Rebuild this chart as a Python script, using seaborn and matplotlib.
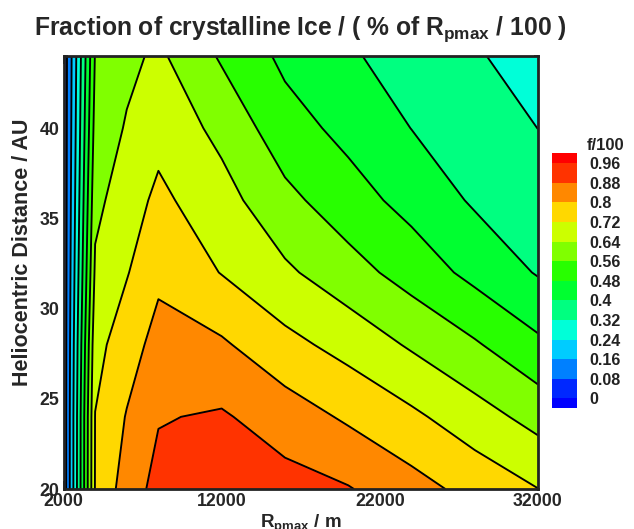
import numpy as np
import matplotlib
matplotlib.use('Agg')
import matplotlib.pyplot as plt
import seaborn as sns
from matplotlib.colors import ListedColormap, BoundaryNorm
from matplotlib.cm import ScalarMappable
from matplotlib.ticker import MultipleLocator, FixedLocator

# ---------------- data ----------------
r_pmax = [2000, 4000, 6000, 8000, 12000, 16000, 20000, 24000, 28000, 32000]
distance = [20, 24, 28, 32, 36, 40, 44]

frac_d20 = [0.02, 0.725, 0.84, 0.905, 0.93, 0.91, 0.885, 0.83, 0.774, 0.721]
frac_d24 = [0.02, 0.722, 0.805, 0.875, 0.889, 0.841, 0.788, 0.736, 0.674, 0.612]
frac_d28 = [0.02, 0.695, 0.763, 0.829, 0.811, 0.744, 0.692, 0.630, 0.569, 0.496]
frac_d32 = [0.02, 0.653, 0.715, 0.783, 0.717, 0.654, 0.592, 0.527, 0.457, 0.394]
frac_d36 = [0.02, 0.620, 0.682, 0.738, 0.670, 0.582, 0.514, 0.453, 0.390, 0.357]
frac_d40 = [0.02, 0.590, 0.647, 0.694, 0.618, 0.513, 0.457, 0.399, 0.359, 0.3195]
frac_d44 = [0.02, 0.565, 0.620, 0.655, 0.550, 0.462, 0.410, 0.366, 0.327, 0.290]

levels = [0, 0.08, 0.16, 0.24, 0.32, 0.40, 0.48, 0.56, 0.64, 0.72, 0.80, 0.88, 0.96]
level_labels = ['0', '0.08', '0.16', '0.24', '0.32', '0.4', '0.48', '0.56',
                '0.64', '0.72', '0.8', '0.88', '0.96']
under_color = '#0000ff'
band_colors = ['#0028ff', '#0080ff', '#00ccff', '#00ffd8', '#00ff80', '#00ff30',
               '#28ff00', '#80ff00', '#ccff00', '#ffd800', '#ff8800', '#ff3300']
over_color = '#ff0000'

x_ticks = [2000, 12000, 22000, 32000]
y_ticks = [20, 25, 30, 35, 40]

# ---------------- style ----------------
sns.set_theme(style='ticks')
plt.rcParams['font.family'] = ['Liberation Sans', 'DejaVu Sans']
plt.rcParams['mathtext.fontset'] = 'custom'
plt.rcParams['mathtext.bf'] = 'Liberation Sans:bold'
plt.rcParams['mathtext.rm'] = 'Liberation Sans:bold'

W, H = 634, 529
fig = plt.figure(figsize=(W / 100, H / 100), dpi=100)
L, R, T, B = 63.5, 538, 56, 489
ax = fig.add_axes([L / W, 1 - B / H, (R - L) / W, (B - T) / H])

X, Y = np.meshgrid(r_pmax, distance)
Z = np.array([frac_d20, frac_d24, frac_d28, frac_d32, frac_d36, frac_d40, frac_d44])

cmap = ListedColormap(band_colors)
cmap.set_under(under_color)
cmap.set_over(over_color)
norm = BoundaryNorm(levels, cmap.N)
ax.contourf(X, Y, Z, levels=levels, cmap=cmap, norm=norm, extend='both')
ax.contour(X, Y, Z, levels=levels, colors='black', linewidths=1.35)

ax.set_xlim(2000, 32000)
ax.set_ylim(20, 44)
ax.xaxis.set_major_locator(FixedLocator(x_ticks))
ax.xaxis.set_minor_locator(MultipleLocator(2000))
ax.yaxis.set_major_locator(FixedLocator(y_ticks))
ax.yaxis.set_minor_locator(MultipleLocator(1))
ax.tick_params(which='both', direction='in', top=True, right=True,
               color='#222222', width=1.2)
ax.tick_params(which='major', length=6, labelsize=12.8, pad=3)
ax.tick_params(axis='x', which='minor', length=5)
ax.tick_params(axis='y', which='minor', length=3)
for lab in ax.get_xticklabels() + ax.get_yticklabels():
    lab.set_fontweight('bold')
for s in ax.spines.values():
    s.set_linewidth(2.0)
    s.set_color('#222222')

ax.set_xlabel(r'R$_{\mathbf{pmax}}$ / m', fontsize=13.5, fontweight='bold', labelpad=2)
fig.text(22.5 / W, 1 - 252 / H, 'Heliocentric Distance / AU', rotation=90,
         ha='center', va='center', fontsize=15.5, fontweight='bold')
ax.set_title(r'Fraction of crystalline Ice / ( % of R$_{\mathbf{pmax}}$ / 100 )',
             fontsize=17.7, fontweight='bold', pad=15)

# ---------------- colour legend ----------------
all_colors = [under_color] + band_colors + [over_color]
bounds = [-0.04] + levels + [1.0]
cax = fig.add_axes([552 / W, 1 - 408.3 / H, 25 / W, (408.3 - 153.3) / H])
sm = ScalarMappable(norm=BoundaryNorm(bounds, len(all_colors)),
                    cmap=ListedColormap(all_colors))
cb = fig.colorbar(sm, cax=cax, boundaries=bounds, ticks=levels, spacing='proportional')
cb.outline.set_visible(False)
cb.minorticks_off()
cb.ax.tick_params(which='both', length=0, pad=9, labelsize=11.6, labelcolor='#222222')
cb.ax.set_yticklabels(level_labels, fontweight='bold')
fig.text(587 / W, 1 - 145 / H, 'f/100', ha='left', va='center',
         fontsize=12, fontweight='bold', color='#222222')

fig.savefig('out.png', dpi=100)
